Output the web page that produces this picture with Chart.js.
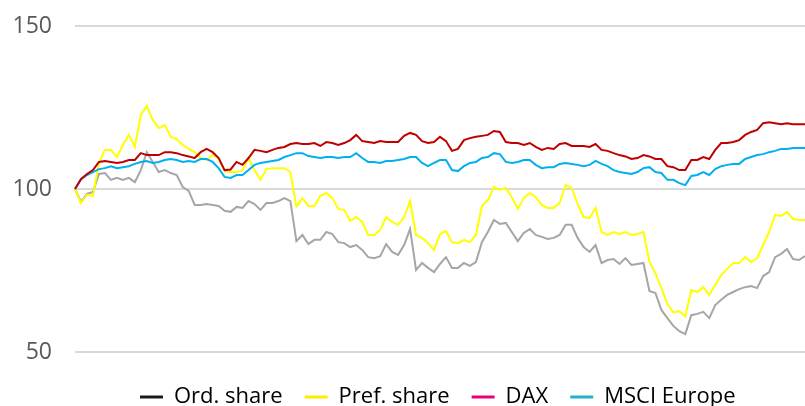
<!DOCTYPE html>
<html>
<head>
<meta charset="utf-8">
<script src="https://cdn.jsdelivr.net/npm/chart.js@4.4.1/dist/chart.umd.min.js"></script>
<style>
  html, body { margin: 0; padding: 0; background: #fff; }
  #wrap { width: 805px; height: 406px; position: relative; }
</style>
</head>
<body>
<div id="wrap"><canvas id="grafico"></canvas></div>
<script>
// index series, start = 100
const ordShare = [100, 96, 98.5, 99.1, 104.6, 104.9, 102.8, 103.4, 102.8, 103.4,
  102.1, 105.8, 111.3, 108.3, 105.2, 105.8, 104.9, 104.3, 100.6, 99.4,
  95.1, 95.1, 95.4, 95.1, 94.8, 93.3, 93, 94.5, 94.2, 96.3,
  95.4, 93.6, 95.7, 95.7, 96.3, 97.2, 96.3, 84, 85.9, 83.1,
  84.4, 84.4, 86.8, 86.2, 83.7, 83.4, 82.2, 82.8, 81.3, 79.1,
  78.8, 79.4, 83.1, 80.7, 79.8, 82.8, 87.7, 75.2, 77.3, 75.8,
  74.5, 77, 79.1, 75.8, 75.8, 77.3, 76.4, 77.6, 83.7, 86.8,
  90.5, 89.3, 89.6, 86.8, 84, 86.5, 87.7, 85.9, 85.3, 84.7,
  85, 85.9, 89, 89, 85, 82.2, 80.7, 82.8, 77.3, 78.2,
  78.5, 77, 78.8, 76.7, 77, 77.3, 68.7, 68.1, 62.9, 60.4,
  58, 56.4, 55.5, 61.3, 61.7, 62.3, 60.4, 64.4, 66, 67.5,
  68.4, 69.3, 69.9, 70.2, 69.6, 73.3, 74.5, 79.1, 80.1, 81.6,
  78.5, 78.2, 79.4];

const prefShare = [100, 95.7, 98.2, 97.9, 108, 112, 112, 109.8, 113.5, 116.6,
  112.9, 122.7, 125.5, 121.2, 118.7, 119.6, 116, 115.3, 113.5, 112.3,
  111.3, 109.5, 108.9, 110.4, 109.5, 105.5, 105.2, 105.2, 105.8, 109.5,
  105.8, 102.8, 106.1, 106.4, 106.4, 106.4, 105.2, 94.5, 97.2, 94.8,
  94.8, 97.9, 98.8, 97.2, 93.9, 93.6, 90.2, 91.4, 89.9, 85.9,
  85.9, 87.4, 91.4, 89.9, 89, 91.4, 96.3, 85.9, 85, 83.4,
  81.3, 86.2, 87.1, 83.7, 83.4, 84.4, 83.7, 85.9, 94.8, 96.6,
  100.6, 99.7, 100.3, 97.5, 93.9, 97.2, 98.8, 97.5, 95.1, 94.2,
  94.2, 95.7, 101.2, 100.3, 95.4, 91.4, 91.1, 94.2, 86.8, 85.9,
  86.8, 86.2, 86.8, 85.9, 86.2, 86.8, 77.6, 74.2, 69.6, 64.7,
  62.2, 62.5, 61, 69, 68.4, 69.9, 67.5, 70.6, 73.6, 75.5,
  77.3, 77.3, 79.1, 77.6, 78.8, 82.8, 86.8, 92, 91.7, 92.9,
  90.8, 90.5, 90.5];

const dax = [100, 103, 104.6, 105.8, 108.3, 108.6, 108.3, 108, 108.3, 108.9,
  108.9, 111, 110.4, 110.4, 110.4, 111.3, 111.3, 111, 110.4, 110,
  109.5, 111.3, 112.3, 111.3, 109.5, 105.8, 106, 108.3, 107.4, 109.5,
  112, 111.7, 111.3, 112, 112.6, 112.9, 113.8, 114.1, 113.8, 113.8,
  114.1, 113.2, 114.4, 114.1, 113.5, 114.1, 115, 116.6, 114.7, 114.4,
  114.1, 114.7, 114.4, 114.4, 114.4, 116.3, 117.2, 116.6, 114.7, 114.1,
  114.4, 116, 114.7, 111.7, 112.3, 115, 115.6, 116, 116.3, 116.6,
  117.8, 117.5, 114.4, 114.1, 114.1, 113.5, 114.1, 112.9, 112, 112.6,
  112.3, 113.8, 114.1, 113.2, 113.2, 113.2, 112.9, 113.8, 112, 111.7,
  111, 110.4, 110, 109.2, 109.5, 110.4, 110, 109.2, 109.2, 107,
  106.7, 105.8, 105.8, 108.9, 108.9, 109.8, 109.2, 112, 114.1, 114.1,
  114.4, 115, 116.6, 117.5, 118.1, 120.2, 120.5, 120.2, 119.9, 120.2,
  119.9, 119.9, 119.9];

const msciEurope = [100, 103, 104.3, 105.2, 106.1, 106.4, 107, 106.4, 106.7, 107,
  107.7, 108.3, 108.6, 108, 108.3, 108.9, 109.2, 108.9, 108.3, 108.6,
  108.3, 109.2, 109.2, 108.3, 106.4, 103.7, 103.4, 104.3, 104.3, 105.8,
  107.4, 108, 108.3, 108.6, 108.9, 109.8, 110.4, 111, 111, 110.1,
  109.8, 109.5, 109.8, 109.8, 109.5, 109.8, 109.8, 111, 109.5, 108.3,
  108.3, 108, 108.6, 108.6, 108.9, 109.2, 109.8, 109.8, 108, 107,
  108, 108.9, 108.9, 105.8, 105.5, 107, 108, 108.3, 109.5, 109.8,
  111, 110.7, 108.3, 108, 108.3, 108.9, 108.9, 107.4, 106.4, 106.7,
  106.7, 107.7, 108, 107.7, 107.4, 107, 107.4, 108.6, 107.7, 107,
  105.8, 105.2, 104.9, 104.6, 105.2, 106.4, 106.7, 105.2, 104.9, 102.8,
  102.8, 101.8, 101.2, 104, 104.3, 105.2, 104.3, 106.1, 107, 107.4,
  107.7, 107.7, 109.2, 109.8, 110.4, 110.7, 111.3, 111.7, 112.3, 112.3,
  112.6, 112.6, 112.6];

const serieNomes = ['Ord. share', 'Pref. share', 'DAX', 'MSCI Europe'];
const yTicks = [50, 100, 150];
// trading days (x axis not shown)
const dias = ordShare.map((_, i) => i + 1);

const corLinha = ['#a6a6a6', '#ffff00', '#c00000', '#00b0f0'];
const corLegenda = ['#1a1a1a', '#ffed00', '#e6007e', '#1fb5c6'];
const fonte = '"Open Sans", Lato, sans-serif';

// push the legend row to where it sits in the original
const moveLegenda = {
  id: 'moveLegenda',
  afterLayout(chart) {
    chart.legend.left = 140 - 22;
    chart.legend.top = 364;
  }
};

const series = [ordShare, prefShare, dax, msciEurope];
const ordem = [3, 2, 0, 1];

new Chart(document.getElementById('grafico').getContext('2d'), {
  type: 'line',
  data: {
    labels: dias,
    datasets: series.map((d, i) => ({
      label: serieNomes[i],
      data: d,
      borderColor: corLinha[i],
      backgroundColor: corLinha[i],
      borderWidth: 2,
      pointRadius: 0,
      tension: 0,
      fill: false,
      order: ordem[i]
    }))
  },
  options: {
    responsive: true,
    maintainAspectRatio: false,
    animation: false,
    layout: { padding: { top: 26, left: 11, right: 0, bottom: 0 } },
    plugins: {
      tooltip: { enabled: false },
      legend: {
        position: 'bottom',
        align: 'start',
        labels: {
          font: { family: fonte, size: 22 },
          color: '#1a1a1a',
          padding: 22,
          usePointStyle: true,
          pointStyleWidth: 23,
          generateLabels: () => serieNomes.map((nome, i) => ({
            text: nome,
            fillStyle: corLegenda[i],
            strokeStyle: corLegenda[i],
            lineWidth: 3,
            pointStyle: 'line',
            hidden: false,
            datasetIndex: i
          }))
        }
      }
    },
    scales: {
      x: { display: false },
      y: {
        min: 50,
        max: 150,
        afterBuildTicks: s => { s.ticks = yTicks.map(v => ({ value: v })); },
        afterFit: s => {
          s.width = 64;
          s.paddingTop = 0;
          s.paddingBottom = 0;
        },
        border: { display: false },
        grid: { color: '#d9d9d9', lineWidth: 2, drawTicks: false },
        ticks: {
          padding: 23,
          color: '#595959',
          font: { family: fonte, size: 23 }
        }
      }
    }
  },
  plugins: [moveLegenda]
});
</script>
</body>
</html>
